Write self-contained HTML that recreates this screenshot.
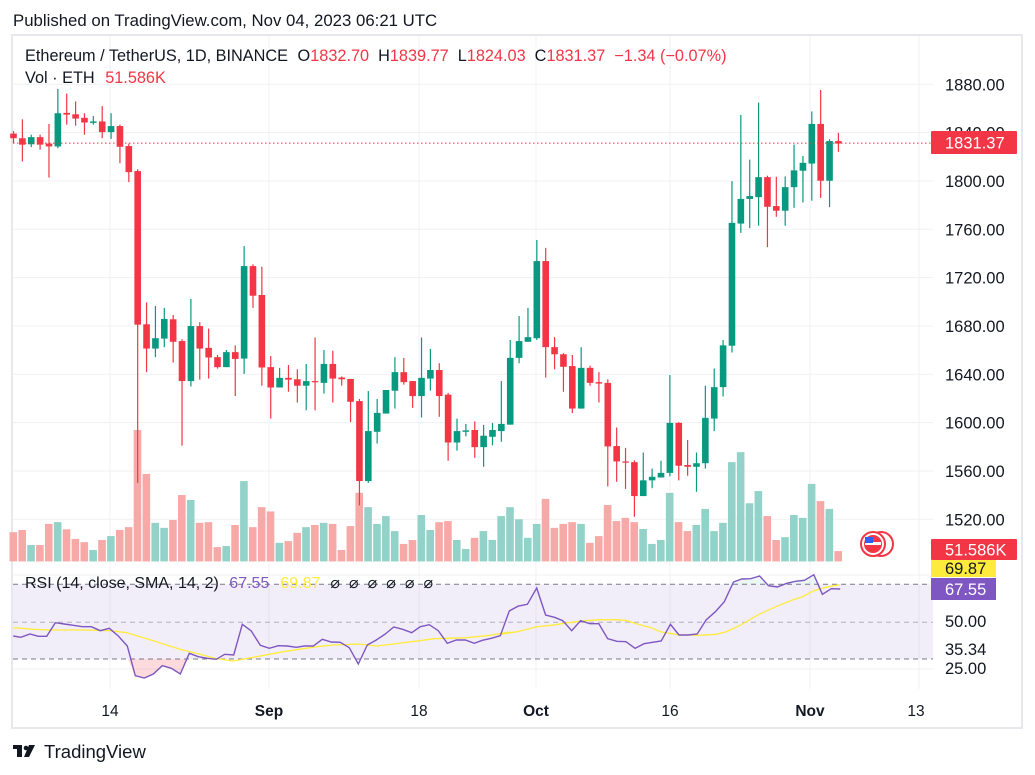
<!DOCTYPE html>
<html><head><meta charset="utf-8"><style>
html,body{margin:0;padding:0;background:#fff;}
body{width:1035px;height:775px;overflow:hidden;font-family:"Liberation Sans",sans-serif;}
svg{display:block}
</style></head><body>
<svg id="s" width="1035" height="775" viewBox="0 0 1035 775" xmlns="http://www.w3.org/2000/svg" font-family="Liberation Sans, sans-serif">
<rect x="0" y="0" width="1035" height="775" fill="#fff"/>
<text x="13" y="26" font-size="16.8" fill="#131722">Published on TradingView.com, Nov 04, 2023 06:21 UTC</text>
<rect x="12" y="35" width="1010" height="693" fill="none" stroke="#e6e8ee" stroke-width="2"/>
<g id="grid" stroke="#f0f1f4" stroke-width="1"></g>
<rect x="13" y="584.3" width="920" height="74.7" fill="#7e57c2" fill-opacity="0.1"/>
<g id="vol"></g>
<g id="candles"></g>
<line x1="13" y1="143.1" x2="933" y2="143.1" stroke="#f23645" stroke-width="1" stroke-dasharray="1.5,2.5"/>
<line x1="13" y1="584.3" x2="933" y2="584.3" stroke="#787b86" stroke-dasharray="5,4"/>
<line x1="13" y1="622.3" x2="933" y2="622.3" stroke="#9598a1" stroke-dasharray="5,4" stroke-opacity="0.7"/>
<line x1="13" y1="659" x2="933" y2="659" stroke="#787b86" stroke-dasharray="5,4"/>
<g id="rsi"></g>
<text x="25" y="61" font-size="16.3" fill="#131722">Ethereum / TetherUS, 1D, BINANCE <tspan dx="5">O</tspan><tspan fill="#f23645">1832.70</tspan><tspan dx="9">H</tspan><tspan fill="#f23645">1839.77</tspan><tspan dx="9">L</tspan><tspan fill="#f23645">1824.03</tspan><tspan dx="9">C</tspan><tspan fill="#f23645">1831.37</tspan><tspan dx="9" fill="#f23645">−1.34 (−0.07%)</tspan></text>
<text x="25" y="83" font-size="16.3" fill="#131722">Vol · ETH <tspan dx="6" fill="#f23645">51.586K</tspan></text>
<text x="25" y="588" font-size="16" fill="#131722">RSI (14, close, SMA, 14, 2) <tspan dx="6" fill="#7e57c2">67.55</tspan><tspan dx="11" fill="#ffeb3b">69.87</tspan><tspan dx="10" fill="#131722" letter-spacing="9">⌀⌀⌀⌀⌀⌀</tspan></text>
<g id="axis" font-size="16.5" fill="#131722"></g>
<rect x="931" y="131" width="86" height="23" fill="#f23645" rx="1"/>
<text x="945" y="148.5" font-size="16.5" fill="#fff">1831.37</text>
<rect x="931" y="539" width="86" height="21" fill="#f23645" rx="1"/>
<text x="945" y="555.5" font-size="16.5" fill="#fff">51.586K</text>
<rect x="931" y="560" width="65" height="17" fill="#ffeb3b"/>
<text x="945" y="574" font-size="16.5" fill="#131722">69.87</text>
<rect x="931" y="578" width="65" height="22" fill="#7e57c2"/>
<text x="945" y="595" font-size="16.5" fill="#fff">67.55</text>
<text x="945" y="627" font-size="16.5" fill="#131722">50.00</text>
<text x="945" y="655" font-size="16.5" fill="#131722">35.34</text>
<text x="945" y="674" font-size="16.5" fill="#131722">25.00</text>
<g transform="translate(861,530)">
<circle cx="20" cy="14" r="12" fill="#fff" stroke="#f23645" stroke-width="2"/>
<circle cx="12" cy="14" r="12" fill="#fff" stroke="#f23645" stroke-width="2"/>
<circle cx="12" cy="14" r="9" fill="#f23645"/>
<rect x="4" y="12" width="16" height="3" fill="#fff"/>
<rect x="4" y="7" width="8" height="6" fill="#2962ff"/>
</g>
<text x="110" y="716" font-size="15.5" fill="#131722" text-anchor="middle">14</text>
<text x="269" y="716" font-size="15.5" fill="#131722" text-anchor="middle" font-weight="bold">Sep</text>
<text x="419" y="716" font-size="15.5" fill="#131722" text-anchor="middle">18</text>
<text x="536" y="716" font-size="15.5" fill="#131722" text-anchor="middle" font-weight="bold">Oct</text>
<text x="670" y="716" font-size="15.5" fill="#131722" text-anchor="middle">16</text>
<text x="810" y="716" font-size="15.5" fill="#131722" text-anchor="middle" font-weight="bold">Nov</text>
<text x="916" y="716" font-size="15.5" fill="#131722" text-anchor="middle">13</text>
<g fill="#131722">
<rect x="13" y="745" width="9" height="4"/><rect x="17" y="745" width="5" height="12"/>
<circle cx="26" cy="748" r="2.3"/><polygon points="29,745 35,745 29,757 24,757"/>
</g>
<text x="44" y="758" font-size="18.5" fill="#131722">TradingView</text>
</svg>
<script>
var NS="http://www.w3.org/2000/svg";
function el(p,t,a){var e=document.createElementNS(NS,t);for(var k in a)e.setAttribute(k,a[k]);document.getElementById(p).appendChild(e);return e;}
var gx=[110,269,419,536,670,810,919];
gx.forEach(function(x){el("grid","line",{x1:x,y1:36,x2:x,y2:689});});
var prices=[1880,1840,1800,1760,1720,1680,1640,1600,1560,1520];
function py(p){return 84.3+(1880-p)*1.2083;}
prices.forEach(function(p){var y=py(p);el("grid","line",{x1:13,y1:y,x2:933,y2:y});
 var t=el("axis","text",{x:945,y:y+6,"font-size":16.5});t.textContent=p.toFixed(2);});
el("grid","line",{x1:13,y1:575,x2:933,y2:575});
el("grid","line",{x1:13,y1:669,x2:933,y2:669});
var C=[[0,262,275,255,290],[0,275,293,222,340],[1,272,292,265,300],[0,272,293,265,307],[0,290,298,235,385],[1,205,298,137,303],[0,204,209,150,237],[0,208,220,172,240],[0,218,231,205,265],[1,228,232,213,237],
[0,228,258,185,275],[1,241,258,205,277],[0,241,299,237,345],[0,297,370,290,398],[0,367,797,362,1240],[0,796,864,735,930],[1,835,864,745,888],[1,781,836,750,860],[0,782,845,770,903],[0,843,955,838,1136],
[1,801,955,725,970],[0,801,864,790,951],[0,862,889,808,948],[0,888,916,882,920],[1,874,916,868,916],[0,874,893,855,997],[1,633,892,577,935],[0,633,716,628,750],[0,714,917,635,968],[0,916,973,885,1060],
[1,946,973,918,973],[0,946,951,910,985],[0,950,968,922,1015],[1,955,968,907,1037],[0,955,958,833,1037],[1,907,960,868,990],[0,907,948,870,1015],[0,945,950,942,968],[0,949,1013,949,1070],[0,1011,1235,1005,1303],
[1,1095,1235,983,1240],[1,1044,1097,1005,1130],[1,980,1046,980,1046],[1,930,982,888,1032],[0,930,958,890,965],[0,955,997,955,1030],[1,946,997,833,1057],[1,924,948,865,982],[0,924,997,905,1055],[0,993,1127,988,1178],
[1,1095,1127,1060,1150],[1,1093,1097,1075,1110],[0,1092,1140,1068,1170],[1,1108,1140,1078,1195],[1,1092,1111,1072,1135],[1,1075,1095,955,1125],[1,890,1077,840,1077],[1,843,890,773,905],[1,832,845,750,845],[1,619,835,560,840],
[0,619,860,582,945],[0,860,880,832,922],[0,880,915,877,985],[0,913,1032,882,1045],[1,918,1032,860,1032],[0,918,960,912,968],[0,958,962,930,1015],[0,960,1138,950,1250],[0,1137,1180,1085,1237],[0,1180,1183,1142,1257],
[0,1182,1277,1177,1335],[1,1233,1277,1155,1277],[1,1223,1233,1200,1255],[1,1212,1225,1178,1222],[1,1072,1212,938,1222],[0,1072,1192,1070,1233],[0,1190,1195,1120,1220],[1,1185,1195,1155,1265],[1,1058,1185,968,1200],[1,972,1060,920,1095],
[1,855,972,840,998],[1,512,856,395,875],[1,445,514,210,540],[1,437,445,335,527],[1,384,440,175,520],[0,384,467,380,580],[0,465,478,383,495],[1,412,478,382,520],[1,365,412,293,470],[1,344,366,325,455],
[1,235,346,200,450],[0,235,394,140,442],[1,283,394,278,468],[0,283,290,260,313]];
var V=[1378,1372,1414,1414,1355,1350,1370,1397,1406,1428,1400,1389,1372,1364,1092,1215,1352,1366,1344,1274,1288,1352,1350,1420,1417,1358,1235,1364,1308,1320,1408,1403,1380,1364,1358,1352,1355,1428,1361,1268,1308,1355,1333,1375,1411,1400,1330,1372,1350,1347,1400,1425,1394,1375,1400,1333,1308,1342,1394,1355,1285,1366,1355,1350,1355,1408,1389,1302,1347,1338,1350,1369,1411,1400,1268,1350,1375,1358,1313,1375,1352,1182,1154,1297,1263,1333,1400,1392,1330,1338,1243,1291,1313,1431];
function zy(z){return 40+z/2.8;}
var vb=zy(1460);
for(var i=0;i<C.length;i++){
 var x=13.5+i*8.87,c=C[i],col=c[0]?"#089981":"#f23645";
 var vt=zy(V[i]);
 el("vol","rect",{x:x-4,y:vt,width:7.6,height:vb-vt,fill:c[0]?"#92d2c8":"#f7a9a7"});
 el("candles","line",{x1:x,y1:zy(c[3]),x2:x,y2:zy(c[4]),stroke:col,"stroke-width":1.2});
 var t=zy(c[1]),b=zy(c[2]);if(b-t<1.2)b=t+1.2;
 el("candles","rect",{x:x-3.3,y:t,width:6.6,height:b-t,fill:col});
}
var P1=[[40,228],[62,232],[90,222],[115,229],[140,229],[166,188],[193,192],[220,196],[247,200],[274,200],[301,212],[328,205],[355,228],[382,258],[406,347],[433,354],[460,342],[487,317],[514,325],[541,342],[568,280],[595,290],[622,295],[649,298],[674,283],[701,285],[727,193],[754,213],[781,256],[808,265],[835,257],[862,258],[889,262],[913,258],[940,258],[967,238],[994,246],[1021,247],[1048,263],[1075,312],[1102,255],[1129,240],[1156,222],[1181,201],[1208,208],[1235,218],[1261,200],[1288,194],[1315,212],[1342,250],[1369,240],[1396,240],[1423,250],[1447,241],[1474,235],[1501,227],[1528,153],[1555,138]];
var P2=[[28,152],[54,138],[80,133],[107,84],[133,165],[159,172],[183,182],[209,212],[235,182],[262,191],[288,191],[314,236],[341,244],[367,245],[394,265],[420,251],[445,247],[470,243],[497,193],[522,225],[548,225],[575,222],[601,180],[628,155],[654,125],[681,66],[705,57],[731,56],[757,48],[783,77],[809,81],[836,70],[862,64],[888,61],[915,44],[940,103],[966,86],[992,87]];
var Y1=[[40,203],[100,208],[150,210],[250,210],[330,212],[380,218],[460,242],[540,268],[600,283],[650,296],[700,303],[760,292],[850,275],[950,260],[1000,255],[1075,252],[1130,258],[1180,252],[1260,242],[1300,236],[1400,233],[1470,226],[1530,216]];
var Y2=[[0,223],[50,215],[80,208],[107,200],[150,196],[200,188],[250,182],[290,179],[340,179],[370,182],[400,192],[440,203],[470,216],[520,224],[580,226],[630,223],[660,215],[700,196],[750,166],[800,142],[850,121],[880,111],[915,92],[950,82],[990,74]];
function m1(p){return [p[0]/3,560+p[1]/3];}
function m2(p){return [500+p[0]/2.916,560+p[1]/3];}
var rsi=P1.map(m1).concat(P2.map(m2));
var sma=Y1.map(m1).concat(Y2.map(m2));
el("rsi","polygon",{points:"128,659 135,675.7 144,678 153,674 162,665.7 171,668.3 180,674 186,659",fill:"#f23645","fill-opacity":"0.18"});
el("rsi","polygon",{points:"727.5,584.3 733.5,581.3 742.5,578.7 751.5,578.7 760,576 768.5,584.3 785,584.3 796,580 805,578 813.8,574.7 820,584.3",fill:"#089981","fill-opacity":"0.08"});
el("rsi","polyline",{points:sma.map(function(p){return p[0].toFixed(1)+","+p[1].toFixed(1)}).join(" "),fill:"none",stroke:"#ffeb3b","stroke-width":1.3});
el("rsi","polyline",{points:rsi.map(function(p){return p[0].toFixed(1)+","+p[1].toFixed(1)}).join(" "),fill:"none",stroke:"#7e57c2","stroke-width":1.4});
</script>
</body></html>
